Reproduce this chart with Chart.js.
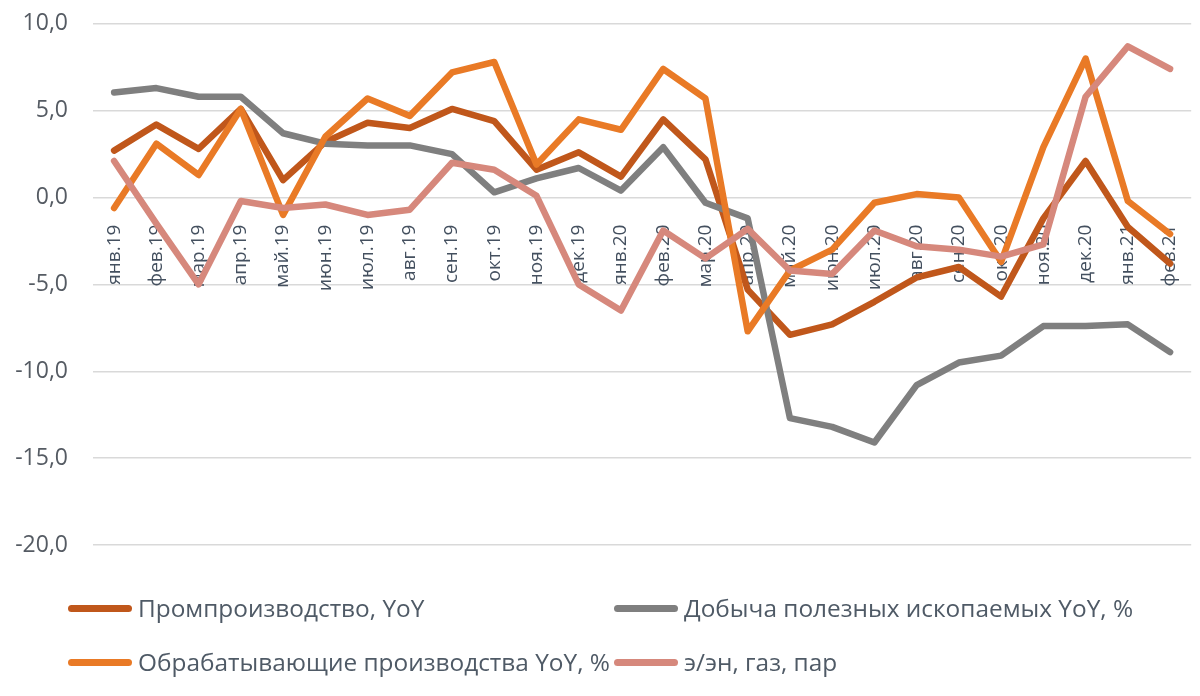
<!DOCTYPE html>
<html>
<head>
<meta charset="utf-8">
<script src="https://cdn.jsdelivr.net/npm/chart.js@4/dist/chart.umd.min.js"></script>
<style>
  html, body { margin: 0; padding: 0; background: #ffffff; overflow: hidden; }
  #wrap { position: relative; width: 1200px; height: 696px; overflow: hidden; }
  canvas { position: absolute; left: 0; top: -15px; }
  .leg { position: absolute; font-family: "Open Sans", sans-serif; font-size: 24.4px; color: #4F5A66; display: flex; align-items: center; white-space: nowrap; line-height: 30px; }
  .leg span.m { display: inline-block; width: 64px; height: 7px; border-radius: 4px; margin-right: 6px; }
</style>
</head>
<body>
<div id="wrap">
  <canvas id="c" width="1212" height="711"></canvas>
  <div class="leg" style="left:68px; top:593px;"><span class="m" style="background:#C0571B"></span>Промпроизводство, YoY</div>
  <div class="leg" style="left:614px; top:593px;"><span class="m" style="background:#7F7F7F"></span>Добыча полезных ископаемых YoY, %</div>
  <div class="leg" style="left:68px; top:647px;"><span class="m" style="background:#E97A26"></span>Обрабатывающие производства YoY, %</div>
  <div class="leg" style="left:614px; top:647px;"><span class="m" style="background:#D6887C"></span>э/эн, газ, пар</div>
</div>
<script>
const categories = ['янв.19','фев.19','мар.19','апр.19','май.19','июн.19','июл.19','авг.19','сен.19','окт.19','ноя.19','дек.19','янв.20','фев.20','мар.20','апр.20','май.20','июн.20','июл.20','авг.20','сен.20','окт.20','ноя.20','дек.20','янв.21','фев.21'];
const promValues  = [2.7, 4.2, 2.8, 5.1, 1.0, 3.2, 4.3, 4.0, 5.1, 4.4, 1.6, 2.6, 1.2, 4.5, 2.2, -5.3, -7.9, -7.3, -6.0, -4.6, -4.0, -5.7, -1.2, 2.1, -1.7, -3.8];
const minesValues = [6.05, 6.3, 5.8, 5.8, 3.7, 3.1, 3.0, 3.0, 2.5, 0.3, 1.1, 1.7, 0.4, 2.9, -0.3, -1.2, -12.7, -13.2, -14.1, -10.8, -9.5, -9.1, -7.4, -7.4, -7.3, -8.9];
const manufValues = [-0.6, 3.1, 1.3, 5.1, -1.0, 3.5, 5.7, 4.7, 7.2, 7.8, 1.9, 4.5, 3.9, 7.4, 5.7, -7.7, -4.2, -3.0, -0.3, 0.2, 0.0, -3.7, 2.9, 8.0, -0.2, -2.1];
const energyValues = [2.1, -1.5, -5.0, -0.2, -0.6, -0.4, -1.0, -0.7, 2.0, 1.6, 0.1, -5.0, -6.5, -1.9, -3.5, -1.8, -4.2, -4.4, -1.9, -2.8, -3.0, -3.4, -2.7, 5.8, 8.7, 7.4];
const seriesNames = ['Промпроизводство, YoY', 'Добыча полезных ископаемых YoY, %', 'Обрабатывающие производства YoY, %', 'э/эн, газ, пар'];
const yTicks = [-20, -15, -10, -5, 0, 5, 10];

function ds(label, data, color, order) {
  return { label, data, borderColor: color, backgroundColor: color, borderWidth: 6.5, pointRadius: 0, pointHoverRadius: 0, tension: 0, borderJoinStyle: 'round', borderCapStyle: 'round', order };
}

new Chart(document.getElementById('c'), {
  type: 'line',
  data: {
    labels: categories,
    datasets: [
      ds(seriesNames[0], promValues, '#C0571B', 3),
      ds(seriesNames[1], minesValues, '#7F7F7F', 2),
      ds(seriesNames[2], manufValues, '#E97A26', 1),
      ds(seriesNames[3], energyValues, '#D6887C', 0)
    ]
  },
  options: {
    responsive: false,
    animation: false,
    layout: { padding: { left: 0, right: 7, top: 9, bottom: 151 } },
    plugins: { legend: { display: false }, tooltip: { enabled: false } },
    scales: {
      x: {
        type: 'category',
        position: { y: 0 },
        offset: true,
        grid: { display: false },
        border: { display: false },
        ticks: {
          autoSkip: false, minRotation: 90, maxRotation: 90, padding: 19,
          color: '#44505F', font: { family: 'Open Sans', size: 19 }
        }
      },
      y: {
        min: -20, max: 10,
        afterFit(scale) { scale.width = 93; },
        afterBuildTicks(scale) { scale.ticks = yTicks.map(v => ({ value: v })); },
        grid: { color: '#D9D9D9', lineWidth: 1.5, drawTicks: false },
        border: { display: false },
        ticks: {
          padding: 25,
          color: '#555B63', font: { family: 'Open Sans', size: 23 },
          callback: v => v.toFixed(1).replace('.', ',')
        }
      }
    }
  }
});
</script>
</body>
</html>
